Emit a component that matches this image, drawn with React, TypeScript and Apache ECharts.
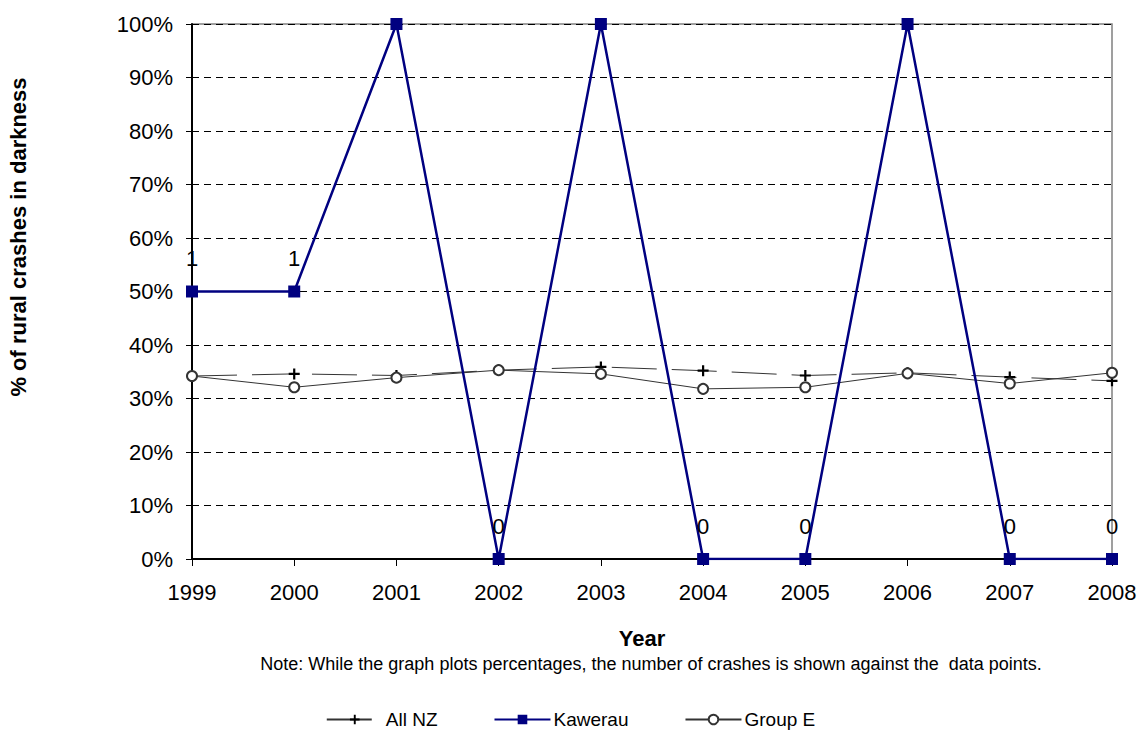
import React, { useEffect, useRef } from "react";
import * as echarts from "echarts";

const years = ["1999", "2000", "2001", "2002", "2003", "2004", "2005", "2006", "2007", "2008"];
const allNZ = [34.2, 34.6, 34.3, 35.3, 35.9, 35.2, 34.3, 34.8, 34.0, 33.3];
const kawerau = [50, 50, 100, 0, 100, 0, 0, 100, 0, 0];
const kawerauCounts = ["1", "1", "", "0", "", "0", "0", "", "0", "0"];
const groupE = [34.2, 32.1, 33.9, 35.3, 34.6, 31.8, 32.1, 34.7, 32.8, 34.8];

const FONT = "'Liberation Sans', Arial, Helvetica, sans-serif";
const PLUS = "path://M4,0 L6,0 L6,4 L10,4 L10,6 L6,6 L6,10 L4,10 L4,6 L0,6 L0,4 L4,4 Z";

export default function App() {
  const ref = useRef<HTMLDivElement>(null);
  useEffect(() => {
    if (!ref.current) return;
    const chart = echarts.init(ref.current, null, { renderer: "svg" });
    chart.setOption({
      animation: false,
      backgroundColor: "#ffffff",
      textStyle: { fontFamily: FONT },
      grid: {
        left: 192,
        right: 29,
        top: 24,
        bottom: 186,
        show: true,
        borderColor: "#808080",
        borderWidth: 1.5,
        backgroundColor: "transparent",
      },
      xAxis: {
        type: "category",
        data: years,
        boundaryGap: false,
        axisLine: { lineStyle: { color: "#000", width: 2 } },
        axisTick: { show: true, length: 7, lineStyle: { color: "#000", width: 1 } },
        axisLabel: { color: "#000", fontSize: 22, fontFamily: FONT, margin: 22 },
        splitLine: { show: false },
      },
      yAxis: {
        type: "value",
        min: 0,
        max: 100,
        interval: 10,
        axisLine: { show: true, lineStyle: { color: "#000", width: 2 } },
        axisTick: { show: true, length: 6, lineStyle: { color: "#000" } },
        axisLabel: { color: "#000", fontSize: 22, fontFamily: FONT, margin: 19, formatter: "{value}%" },
        splitLine: { show: true, lineStyle: { color: "#000", type: [7, 5], width: 1 } },
      },
      legend: {
        top: 705,
        left: "center",
        itemWidth: 56,
        itemHeight: 12,
        itemGap: 56,
        textStyle: { color: "#000", fontSize: 19, fontFamily: FONT, padding: [0, 0, 0, -2] },
        data: ["All NZ", "Kawerau", "Group E"],
      },
      graphic: [
        {
          type: "text",
          x: 642,
          y: 638,
          style: {
            text: "Year",
            font: `bold 22px ${FONT}`,
            fill: "#000",
            align: "center",
            verticalAlign: "middle",
          },
        },
        {
          type: "text",
          x: 651,
          y: 664,
          style: {
            text: "Note: While the graph plots percentages, the number of crashes is shown against the  data points.",
            font: `18px ${FONT}`,
            fill: "#000",
            align: "center",
            verticalAlign: "middle",
          },
        },
        {
          type: "text",
          x: 18,
          y: 237,
          rotation: Math.PI / 2,
          style: {
            text: "% of rural crashes in darkness",
            font: `bold 22px ${FONT}`,
            fill: "#000",
            align: "center",
            verticalAlign: "middle",
          },
        },
      ],
      series: [
        {
          name: "All NZ",
          type: "line",
          data: allNZ,
          symbol: PLUS,
          symbolSize: 11,
          lineStyle: { color: "#333", width: 1, type: [45, 15] },
          itemStyle: { color: "#000", borderWidth: 0 },
          z: 2,
        },
        {
          name: "Group E",
          type: "line",
          data: groupE,
          symbol: "emptyCircle",
          symbolSize: 10,
          lineStyle: { color: "#333", width: 1 },
          itemStyle: { color: "#333", borderColor: "#333", borderWidth: 1.8 },
          z: 3,
        },
        {
          name: "Kawerau",
          type: "line",
          data: kawerau,
          symbol: "rect",
          symbolSize: 12,
          lineStyle: { color: "#000080", width: 2.5 },
          itemStyle: { color: "#000080" },
          label: {
            show: true,
            position: "top",
            distance: 16,
            color: "#000",
            fontSize: 22,
            fontFamily: FONT,
            formatter: (p: any) => kawerauCounts[p.dataIndex],
          },
          z: 4,
        },
      ],
    });
    return () => chart.dispose();
  }, []);
  return (
    <div
      ref={ref}
      style={{ position: "fixed", left: 0, top: 0, width: 1141, height: 745, background: "#fff" }}
    />
  );
}
